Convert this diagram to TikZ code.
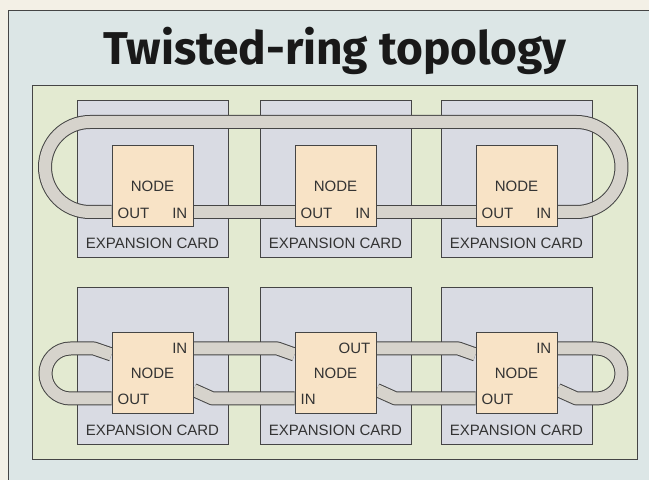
\documentclass[tikz,border=0pt]{standalone}
\usepackage{fontspec}
\usepackage{tikz}
\usetikzlibrary{positioning}
\newfontfamily\labelfont{Liberation Sans}
\newfontfamily\titlefont{Fira Sans}
\definecolor{paper}{HTML}{F3F0E6}
\definecolor{frameblue}{HTML}{DCE6E6}
\definecolor{panelgreen}{HTML}{E3EAD1}
\definecolor{cardgray}{HTML}{D9DBE3}
\definecolor{nodepeach}{HTML}{F8E3C6}
\definecolor{cablegray}{HTML}{D6D3CC}
\definecolor{inkgray}{HTML}{454545}
\pgfdeclarelayer{back}
\pgfdeclarelayer{wires}
\pgfsetlayers{back,wires,main}

\begin{document}
\begin{tikzpicture}[x=1pt, y=1pt,
    card/.style={draw=inkgray, fill=cardgray, line width=1pt, minimum width=151pt, minimum height=157pt, inner sep=0pt},
    nodebox/.style={draw=inkgray, fill=nodepeach, line width=1pt, minimum size=81pt, inner sep=0pt, font=\labelfont\fontsize{15}{18}\selectfont, text=black!80},
    lbl/.style={inner sep=0pt, font=\labelfont\fontsize{15}{18}\selectfont, text=black!80},
    cable/.style={draw=inkgray, line width=1pt, double=cablegray, double distance=12pt, line join=round},
]
  \useasboundingbox (0,0) rectangle (649,480);

  \begin{pgfonlayer}{back}
    \fill[paper] (0,0) rectangle (649,480);
    \fill[frameblue] (8,0) rectangle (649,469);
    \draw[inkgray, line width=1pt] (8,0) -- (8,469) -- (649,469);
    \draw[inkgray, fill=panelgreen, line width=1pt] (32,20) rectangle (637,394);

    % expansion cards, top row (c) and bottom row (d)
    \foreach \i/\x in {1/152.5, 2/335.5, 3/516.5} {
      \node[card] (c\i) at (\x,300.5) {};
      \node[lbl, anchor=base] at ([yshift=10pt]c\i.south) {EXPANSION CARD};
      \node[card] (d\i) at (\x,113.5) {};
      \node[lbl, anchor=base] at ([yshift=10pt]d\i.south) {EXPANSION CARD};
    }
  \end{pgfonlayer}

  \node[font=\titlefont\bfseries\fontsize{46}{54}\selectfont, text=black!90, anchor=base] (title) at (335,415) {Twisted-ring topology};

  % nodes on the cards
  \foreach \i/\up/\dn in {1/IN/OUT, 2/OUT/IN, 3/IN/OUT} {
    \node[nodebox] (t\i) at ([yshift=-7pt]c\i.center) {NODE};
    \node[lbl, anchor=base west] at ([xshift=6pt, yshift=9pt]t\i.south west) {OUT};
    \node[lbl, anchor=base east] at ([xshift=-6pt, yshift=9pt]t\i.south east) {IN};
    \node[nodebox] (b\i) at ([yshift=-7pt]d\i.center) {NODE};
    \node[lbl, anchor=north east] at ([xshift=-6pt, yshift=-10pt]b\i.north east) {\up};
    \node[lbl, anchor=base west] at ([xshift=6pt, yshift=10pt]b\i.south west) {\dn};
  }

  \begin{pgfonlayer}{wires}
    % top ring
    \draw[cable] ([yshift=-25.5pt]t1.west) -- (90,268) arc[start angle=270, end angle=90, radius=45]
      -- (576.5,358) arc[start angle=90, end angle=-90, radius=45] -- ([yshift=-25.5pt]t3.east);
    \foreach \i/\j in {1/2, 2/3}
      \draw[cable] ([yshift=-25.5pt]t\i.east) -- ([yshift=-25.5pt]t\j.west);

    % twisted ring
    \draw[cable] ([yshift=-25pt]b1.west) -- (70.5,81.5) arc[start angle=270, end angle=90, radius=25]
      -- (94,131.5) -- ([yshift=19pt]b1.west);
    \foreach \i/\j in {1/2, 2/3} {
      \draw[cable] ([yshift=25pt]b\i.east) -- ([xshift=-17pt, yshift=25pt]b\j.west) -- ([yshift=19pt]b\j.west);
      \draw[cable] ([yshift=-16.5pt]b\i.east) -- ([xshift=19pt, yshift=-25pt]b\i.east) -- ([yshift=-25pt]b\j.west);
    }
    \draw[cable] ([yshift=25pt]b3.east) -- (596.5,131.5) arc[start angle=90, end angle=-90, radius=25]
      -- ([xshift=19pt, yshift=-25pt]b3.east) -- ([yshift=-16.5pt]b3.east);
  \end{pgfonlayer}
\end{tikzpicture}
\end{document}
